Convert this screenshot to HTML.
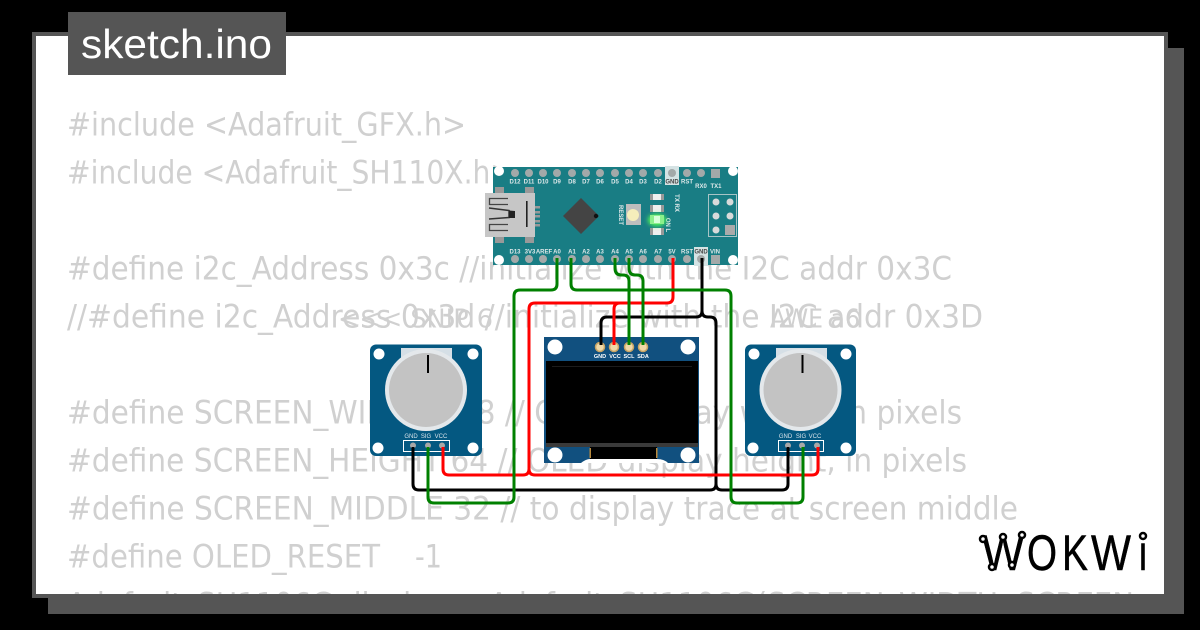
<!DOCTYPE html>
<html><head><meta charset="utf-8"><style>html,body{margin:0;padding:0;background:#000}svg{display:block}</style></head>
<body>
<svg xmlns="http://www.w3.org/2000/svg" width="1200" height="630" viewBox="0 0 1200 630">
<defs><clipPath id="c"><rect x="36" y="36" width="1128" height="558"/></clipPath>
<filter id="g" x="-100%" y="-100%" width="300%" height="300%"><feGaussianBlur stdDeviation="2.5"/></filter></defs>
<rect width="1200" height="630" fill="#000"/>
<rect x="48" y="48" width="1136" height="566" fill="#555"/>
<rect x="32" y="32" width="1136" height="566" fill="#555"/>
<rect x="36" y="36" width="1128" height="558" fill="#fff"/>
<g clip-path="url(#c)" font-family="'DejaVu Sans',sans-serif" font-size="32" fill="#d0d0d0">
<text x="67" y="135.500" textLength="399" lengthAdjust="spacingAndGlyphs">#include &lt;Adafruit_GFX.h&gt;</text>
<text x="67" y="183.500" textLength="447" lengthAdjust="spacingAndGlyphs">#include &lt;Adafruit_SH110X.h&gt;</text>
<text x="67" y="279.500" textLength="885" lengthAdjust="spacingAndGlyphs">#define i2c_Address 0x3c //initialize with the I2C addr 0x3C</text>
<text x="67" y="327.500" textLength="916" lengthAdjust="spacingAndGlyphs">//#define i2c_Address 0x3d //initialize with the I2C addr 0x3D</text>
<text x="338" y="327.500" font-size="26" textLength="155" lengthAdjust="spacingAndGlyphs">&lt;&lt;&lt; SNIP 6</text>
<text x="770" y="327.500" font-size="26" textLength="90" lengthAdjust="spacingAndGlyphs">AWE a6</text>
<text x="67" y="423.500" textLength="895" lengthAdjust="spacingAndGlyphs">#define SCREEN_WIDTH 128 // OLED display width, in pixels</text>
<text x="67" y="471.500" textLength="900" lengthAdjust="spacingAndGlyphs">#define SCREEN_HEIGHT 64 // OLED display height, in pixels</text>
<text x="67" y="519.500" textLength="951" lengthAdjust="spacingAndGlyphs">#define SCREEN_MIDDLE 32 // to display trace at screen middle</text>
<text x="67" y="567.500" textLength="313" lengthAdjust="spacingAndGlyphs">#define OLED_RESET</text>
<text x="415" y="567.500" textLength="27" lengthAdjust="spacingAndGlyphs">-1</text>
<text x="67" y="615.500" textLength="1067" lengthAdjust="spacingAndGlyphs">Adafruit_SH1106G display = Adafruit_SH1106G(SCREEN_WIDTH, SCREEN</text>
</g>
<rect x="68" y="12" width="218" height="63" fill="#555"/>
<text x="81" y="58" font-family="'Liberation Sans',sans-serif" font-size="41" fill="#fff" textLength="191" lengthAdjust="spacingAndGlyphs">sketch.ino</text>

<!-- Nano -->
<rect x="493" y="167" width="245" height="98" fill="#197d84"/>
<rect x="665" y="166" width="14" height="19" fill="#d5e3e4"/>
<rect x="694" y="247" width="14" height="19" fill="#d5e3e4"/>
<g fill="#fff"><circle cx="499" cy="171" r="5"/><circle cx="733" cy="171" r="5"/><circle cx="499" cy="260" r="5"/><circle cx="733" cy="260" r="5"/></g>
<g fill="#a3a9a9">
<circle cx="515" cy="173" r="4"/><circle cx="529" cy="173" r="4"/><circle cx="543" cy="173" r="4"/><circle cx="557" cy="173" r="4"/><circle cx="572" cy="173" r="4"/><circle cx="586" cy="173" r="4"/><circle cx="600" cy="173" r="4"/><circle cx="615" cy="173" r="4"/><circle cx="629" cy="173" r="4"/><circle cx="643" cy="173" r="4"/><circle cx="658" cy="173" r="4"/><circle cx="672" cy="173" r="4"/><circle cx="687" cy="173" r="4"/><circle cx="701" cy="173" r="4"/>
<rect x="711" y="169" width="9" height="9"/>
<circle cx="515" cy="259" r="4"/><circle cx="529" cy="259" r="4"/><circle cx="543" cy="259" r="4"/><circle cx="557" cy="259" r="4"/><circle cx="572" cy="259" r="4"/><circle cx="586" cy="259" r="4"/><circle cx="600" cy="259" r="4"/><circle cx="615" cy="259" r="4"/><circle cx="629" cy="259" r="4"/><circle cx="643" cy="259" r="4"/><circle cx="658" cy="259" r="4"/><circle cx="672" cy="259" r="4"/><circle cx="687" cy="259" r="4"/><circle cx="701" cy="259" r="4"/>
<rect x="711" y="255" width="9" height="9"/>
</g>
<g font-family="'Liberation Sans',sans-serif" font-weight="bold" font-size="6" fill="#dfe9ea" text-anchor="middle">
<text x="515" y="183.500">D12</text><text x="529" y="183.500">D11</text><text x="543" y="183.500">D10</text><text x="557" y="183.500">D9</text><text x="572" y="183.500">D8</text><text x="586" y="183.500">D7</text><text x="600" y="183.500">D6</text><text x="615" y="183.500">D5</text><text x="629" y="183.500">D4</text><text x="643" y="183.500">D3</text><text x="658" y="183.500">D2</text><text x="672" y="183.500" fill="#444">GND</text><text x="687" y="183.500">RST</text><text x="701" y="188">RX0</text><text x="716" y="188">TX1</text>
<text x="515" y="253.500">D13</text><text x="530" y="253.500">3V3</text><text x="544" y="253.500">AREF</text><text x="557" y="253.500">A0</text><text x="572" y="253.500">A1</text><text x="586" y="253.500">A2</text><text x="600" y="253.500">A3</text><text x="615" y="253.500">A4</text><text x="629" y="253.500">A5</text><text x="643" y="253.500">A6</text><text x="658" y="253.500">A7</text><text x="672" y="253.500">5V</text><text x="687" y="253.500">RST</text><text x="701" y="253.500" fill="#444">GND</text><text x="715" y="253.500">VIN</text>
<text transform="translate(619,215) rotate(90)">RESET</text>
<text transform="translate(675,203) rotate(90)">TX  RX</text>
<text transform="translate(666,225) rotate(90)">ON  L</text>
</g>
<!-- USB -->
<g fill="#999"><rect x="495" y="187" width="9" height="6"/><rect x="525" y="187" width="9" height="6"/><rect x="495" y="237" width="9" height="6"/><rect x="525" y="237" width="9" height="6"/>
<rect x="535" y="206" width="5" height="2.500"/><rect x="535" y="211" width="5" height="2.500"/><rect x="535" y="215" width="5" height="2.500"/><rect x="535" y="220" width="5" height="2.500"/><rect x="535" y="224" width="5" height="2.500"/></g>
<rect x="485" y="193" width="50" height="44" fill="#c6c6c6"/>
<path d="M508 198.500H489.500V204.500H508M508 224.500H489.500V230.500H508" fill="none" stroke="#444" stroke-width="1.300"/>
<path d="M489 208L509 210.500V217.500L489 219" fill="none" stroke="#333" stroke-width="1.500"/>
<path d="M509 210.500L515 211V218L509 218Z" fill="#222"/>
<rect x="526" y="201" width="1.600" height="26" fill="#222"/>
<!-- Chip -->
<path d="M581 198L599 216L581 234L563 216Z" fill="#444"/><circle cx="596" cy="216" r="2.200" fill="#111"/>
<!-- Reset -->
<rect x="626" y="204" width="15" height="21" fill="#bdbdbd"/><circle cx="633" cy="215" r="6" fill="#f5eebb"/>
<!-- LEDs -->
<g fill="#eee"><rect x="650" y="194" width="14" height="6"/><rect x="650" y="205" width="14" height="7"/><rect x="650" y="228" width="14" height="7"/></g>
<g fill="#999"><rect x="650" y="194" width="3" height="6"/><rect x="661" y="194" width="3" height="6"/><rect x="650" y="205" width="3" height="7"/><rect x="661" y="205" width="3" height="7"/><rect x="650" y="228" width="3" height="7"/><rect x="661" y="228" width="3" height="7"/></g>
<ellipse cx="657" cy="220" rx="9" ry="6" fill="#55ff55" filter="url(#g)"/>
<rect x="650" y="215" width="14" height="9" fill="#8cf08c"/><rect x="654" y="216" width="6" height="7" fill="#d8ffd8"/>
<!-- ICSP -->
<rect x="708.500" y="194.500" width="28" height="42" fill="none" stroke="#a8c4c6"/>
<g fill="#d8dada"><circle cx="716" cy="202" r="3.500"/><circle cx="730" cy="202" r="3.500"/><circle cx="716" cy="216" r="3.500"/><circle cx="730" cy="216" r="3.500"/><circle cx="716" cy="230" r="3.500"/><rect x="725" y="225" width="10" height="10" fill="#aaa"/></g>

<!-- Pot left -->
<g>
<rect x="370" y="344.500" width="112" height="111.500" rx="6" fill="#045881"/>
<rect x="401" y="348" width="51" height="20" fill="#d5dfe6"/>
<g fill="#fff"><circle cx="379" cy="354" r="5.500"/><circle cx="473" cy="354" r="5.500"/><circle cx="378" cy="448" r="5.500"/><circle cx="473" cy="448" r="5.500"/></g>
<circle cx="426" cy="390" r="41" fill="#e4e8eb"/><circle cx="426" cy="390" r="37" fill="#c3c3c3"/>
<rect x="427" y="355" width="2" height="18" fill="#000"/>
<rect x="403.500" y="440.500" width="46" height="11" fill="none" stroke="#fff"/>
<g fill="#a8a8a8"><circle cx="413" cy="445.500" r="3"/><circle cx="428" cy="445.500" r="3"/><circle cx="442" cy="445.500" r="3"/></g>
<g font-family="'Liberation Sans',sans-serif" font-size="6" fill="#d8e3ea" text-anchor="middle"><text x="411" y="438">GND</text><text x="426" y="438">SIG</text><text x="441" y="438">VCC</text></g>
</g>
<!-- Pot right -->
<g>
<rect x="745" y="344.500" width="111" height="111.500" rx="6" fill="#045881"/>
<rect x="776" y="348" width="51" height="20" fill="#d5dfe6"/>
<g fill="#fff"><circle cx="754" cy="354" r="5.500"/><circle cx="846" cy="354" r="5.500"/><circle cx="753" cy="448" r="5.500"/><circle cx="846" cy="448" r="5.500"/></g>
<circle cx="800.500" cy="390" r="41" fill="#e4e8eb"/><circle cx="800.500" cy="390" r="37" fill="#c3c3c3"/>
<rect x="801.500" y="355" width="2" height="18" fill="#000"/>
<rect x="778.500" y="440.500" width="45" height="11" fill="none" stroke="#fff"/>
<g fill="#a8a8a8"><circle cx="788" cy="445.500" r="3"/><circle cx="802" cy="445.500" r="3"/><circle cx="817" cy="445.500" r="3"/></g>
<g font-family="'Liberation Sans',sans-serif" font-size="6" fill="#d8e3ea" text-anchor="middle"><text x="785.500" y="438">GND</text><text x="801" y="438">SIG</text><text x="815" y="438">VCC</text></g>
</g>
<!-- OLED -->
<rect x="544" y="337" width="155" height="126" fill="#11507f"/>
<path d="M581 463Q586 459 590 459H657Q664 459 668 463Z" fill="#fff"/>
<g fill="#fff"><circle cx="555" cy="347" r="7.500"/><circle cx="688" cy="347" r="7.500"/><circle cx="555" cy="455" r="7.500"/><circle cx="688" cy="455" r="7.500"/></g>
<rect x="546" y="361" width="152" height="82" fill="#000"/>
<rect x="552" y="366" width="140" height="1" fill="#1c1c1c"/>
<rect x="546" y="443" width="152" height="4" fill="#3a3a3a"/>
<rect x="590" y="447" width="67" height="12" fill="#000"/>
<rect x="589.500" y="448" width="1.500" height="10" fill="#b98a3e"/><rect x="656" y="448" width="1.500" height="10" fill="#b98a3e"/>
<g fill="#f0d9a8" stroke="#c9a565" stroke-width="1.500"><circle cx="600" cy="347" r="4.500"/><circle cx="614" cy="347" r="4.500"/><circle cx="629" cy="347" r="4.500"/><circle cx="643" cy="347" r="4.500"/></g>
<g font-family="'Liberation Sans',sans-serif" font-weight="bold" font-size="5.500" fill="#fff" text-anchor="middle"><text x="600" y="358">GND</text><text x="615" y="358">VCC</text><text x="629" y="358">SCL</text><text x="643" y="358">SDA</text></g>

<!-- Wires -->
<g fill="none" stroke-width="3" stroke-linecap="butt">
<g stroke="#000">
<path d="M702 258V311Q702 317 696 317H607Q601 317 601 323V345"/>
<path d="M702 311Q702 317 708 317H710Q716 317 716 323V484Q716 490 710 490H419Q413 490 413 484V447"/>
<path d="M716 484Q716 490 722 490H782Q788 490 788 484V447"/>
</g>
<g stroke="#f00">
<path d="M673 258V297Q673 303 667 303H535Q529 303 529 309V469Q529 475 523 475H449Q443 475 443 469V447"/>
<path d="M529 469Q529 475 535 475H812Q818 475 818 469V447"/>
<path d="M614 345V309Q614 303 620 303H630"/>
</g>
<g stroke="#008000">
<path d="M557 258V284Q557 290 551 290H520Q514 290 514 296V497Q514 503 508 503H434Q428 503 428 497V447"/>
<path d="M571 258V284Q571 290 577 290H725Q731 290 731 296V497Q731 503 737 503H797Q803 503 803 497V447"/>
<path d="M615 258V268Q615 275 621 275H623Q629 275 629 281V345"/>
<path d="M629 258V268Q629 275 635 275H637Q643 275 643 281V345"/>
</g>
</g>

<!-- Logo -->
<g font-family="'Liberation Sans',sans-serif" font-size="50" fill="#000" stroke="#000" stroke-width=".5">
<text x="982" y="570" textLength="42" lengthAdjust="spacingAndGlyphs">W</text>
<text x="1027" y="570" textLength="30" lengthAdjust="spacingAndGlyphs">O</text>
<text x="1062" y="570" textLength="26" lengthAdjust="spacingAndGlyphs">K</text>
<text x="1091" y="570" textLength="40" lengthAdjust="spacingAndGlyphs">W</text>
<text x="1139" y="570" textLength="8" lengthAdjust="spacingAndGlyphs">i</text>
</g>
<g fill="#fff" stroke="#000" stroke-width="2.500"><circle cx="983" cy="539" r="3"/><circle cx="1003" cy="537" r="3"/><circle cx="1022" cy="535" r="3"/><circle cx="992" cy="567" r="3"/><circle cx="1012" cy="565" r="3"/><circle cx="1143" cy="536" r="3"/></g>
</svg>
</body></html>
